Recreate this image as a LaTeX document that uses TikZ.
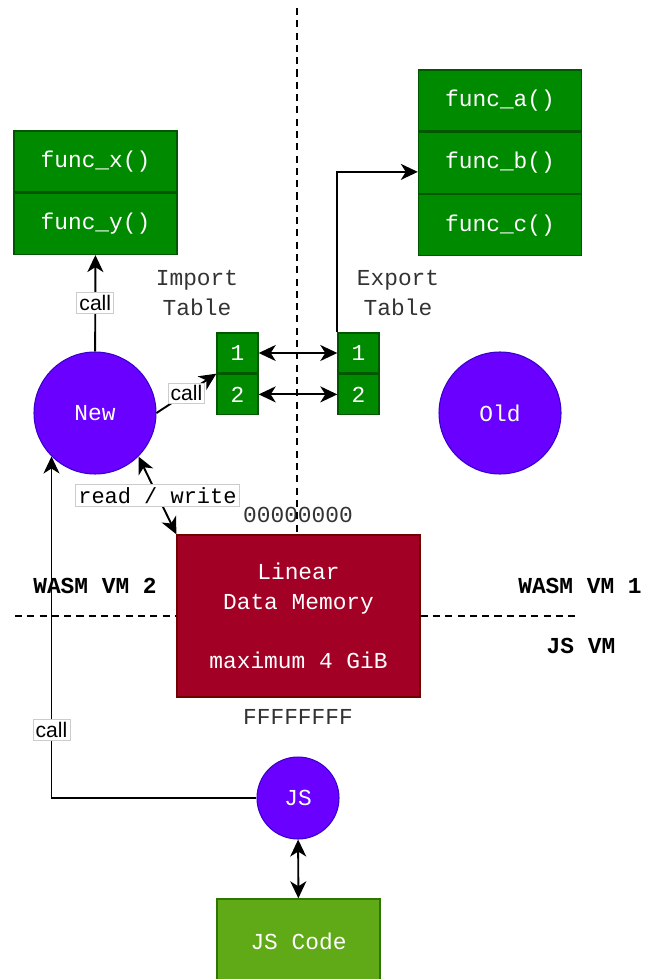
\documentclass[tikz,border=0pt]{standalone}
\usepackage{fontspec}
\setmonofont{Liberation Mono}
\setsansfont{Liberation Sans}
\usetikzlibrary{arrows.meta,positioning}

\definecolor{fnfill}{HTML}{008A00}
\definecolor{fnline}{HTML}{005700}
\definecolor{memfill}{HTML}{A20025}
\definecolor{memline}{HTML}{6F0000}
\definecolor{vmfill}{HTML}{6A00FF}
\definecolor{vmline}{HTML}{3700CC}
\definecolor{jsfill}{HTML}{60A917}
\definecolor{jsline}{HTML}{2D7600}

\tikzset{
  mono/.style={font=\ttfamily\fontsize{13}{17}\selectfont},
  fncell/.style={mono, draw=fnline, fill=fnfill, text=white, line width=0.8pt,
    minimum width=3.26cm, minimum height=1.22cm, inner sep=0pt},
  tblcell/.style={fncell, minimum width=0.82cm, minimum height=0.8cm},
  vmcircle/.style={mono, circle, draw=vmline, fill=vmfill, text=white, line width=0.6pt,
    minimum size=2.44cm, inner sep=0pt},
  caption/.style={mono, text=black!80, align=center},
  vmlabel/.style={mono, font=\ttfamily\bfseries\fontsize{13}{17}\selectfont},
  divider/.style={dashed, line width=0.9pt, dash pattern=on 4pt off 3pt},
  tip/.tip={Stealth[length=0.34cm,width=0.32cm,inset=0.1cm]},
  arr/.style={line width=1.1pt, -tip},
  dbl/.style={line width=1.1pt, tip-tip},
  callbox/.style={draw=black!20, fill=white, font=\sffamily\fontsize{12}{12}\selectfont,
    inner sep=1.5pt, line width=0.5pt},
  rwbox/.style={callbox, font=\ttfamily\fontsize{12.5}{12.5}\selectfont}
}

\begin{document}
\begin{tikzpicture}[x=0.02cm,y=-0.02cm]
  \useasboundingbox (0,0) rectangle (646,979);

  % imported functions
  \node[fncell] (fx) at (95.5,161.5) {func\_x()};
  \node[fncell, below=0pt of fx] (fy) {func\_y()};

  % exported functions
  \node[fncell] (fa) at (500,100.5) {func\_a()};
  \node[fncell, below=0pt of fa] (fb) {func\_b()};
  \node[fncell, below=0pt of fb] (fc) {func\_c()};

  % tables
  \node[tblcell] (i1) at (237.5,353) {1};
  \node[tblcell, below=0pt of i1] (i2) {2};
  \node[tblcell] (e1) at (358.5,353) {1};
  \node[tblcell, below=0pt of e1] (e2) {2};
  \node[caption] (imp) at (197,293) {Import\\Table};
  \node[caption] (exp) at (398,293) {Export\\Table};

  % instances
  \node[vmcircle] (new) at (95,413) {New};
  \node[vmcircle] (old) at (500,413) {Old};
  \node[vmcircle, minimum size=1.64cm] (js) at (298,798) {JS};
  \node[mono, draw=jsline, fill=jsfill, text=white, line width=0.8pt,
    minimum width=3.26cm, minimum height=1.68cm] (jscode) at (298.5,941) {JS Code};

  % memory
  \node[mono, draw=memline, fill=memfill, text=white, line width=0.8pt, align=center,
    minimum width=4.86cm, minimum height=3.24cm] (mem) at (298.5,616)
    {Linear\\Data Memory\\[0.58cm]maximum 4 GiB};
  \node[caption] (lo) at (298,515) {00000000};
  \node[caption] (hi) at (298,717) {FFFFFFFF};

  % borders between the machines
  \draw[divider] (297,8) -- (297,535);
  \draw[divider] (15,616) -- (mem.west);
  \draw[divider] (mem.east) -- (580,616);
  \node[vmlabel] (vm2) at (95,586) {WASM VM 2};
  \node[vmlabel] (vm1) at (580,586) {WASM VM 1};
  \node[vmlabel] (jsvm) at (581,646) {JS VM};

  % connectors
  \draw[arr] (new) -- node[callbox] {call} (fy);
  \draw[arr] (new.east) -- node[callbox] {call} (i2.north west);
  \draw[dbl] (i1.east) -- (e1.west);
  \draw[dbl] (i2.east) -- (e2.west);
  \draw[arr] (e1.north west) |- ([yshift=-0.18cm]fb.west);
  \draw[dbl] (new.south east) -- node[rwbox] {read / write} (mem.north west);
  \draw[arr] (js.west) -| node[callbox, pos=0.6] {call} (new.south west);
  \draw[dbl] (js) -- (jscode);
\end{tikzpicture}
\end{document}
